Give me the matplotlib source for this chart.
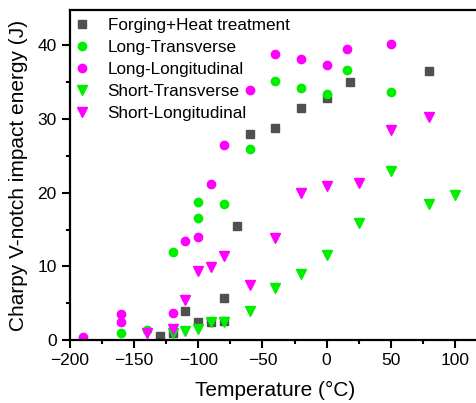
import matplotlib
matplotlib.use("Agg")
import matplotlib.pyplot as plt
from matplotlib.ticker import MultipleLocator

plt.rcParams['font.family'] = ['Liberation Sans', 'DejaVu Sans']

# Forging + Heat treatment
fh_T = [-130, -120, -110, -100, -90, -80, -80, -70, -60, -40, -20, 0, 18, 80]
fh_E = [0.6, 0.9, 4.0, 2.5, 2.4, 5.7, 2.6, 15.5, 28.0, 28.8, 31.5, 32.9, 35.0, 36.5]

# Long-Transverse
lt_T = [-160, -140, -120, -100, -100, -80, -60, -40, -20, 0, 16, 50]
lt_E = [0.9, 1.3, 12.0, 18.7, 16.5, 18.4, 25.9, 35.2, 34.2, 33.4, 36.7, 33.7]

# Long-Longitudinal
ll_T = [-190, -160, -160, -120, -110, -100, -90, -80, -60, -40, -20, 0, 16, 50]
ll_E = [0.45, 3.5, 2.5, 3.7, 13.5, 14.0, 21.2, 26.5, 33.9, 38.8, 38.2, 37.4, 39.5, 40.2]

# Short-Transverse
st_T = [-120, -110, -100, -90, -80, -60, -40, -20, 0, 25, 50, 80, 100]
st_E = [0.9, 1.2, 1.45, 2.4, 2.5, 3.9, 7.1, 8.9, 11.6, 15.9, 22.9, 18.4, 19.7]

# Short-Longitudinal
sl_T = [-140, -120, -110, -100, -90, -80, -60, -40, -20, 0, 25, 50, 80]
sl_E = [0.9, 1.45, 5.4, 9.4, 9.9, 11.4, 7.5, 13.9, 19.9, 20.9, 21.3, 28.5, 30.3]

labels = ["Forging+Heat treatment", "Long-Transverse", "Long-Longitudinal",
          "Short-Transverse", "Short-Longitudinal"]
x_ticks = [-200, -150, -100, -50, 0, 50, 100]
y_ticks = [0, 10, 20, 30, 40]

gray = "#505050"
green = "#00ee00"
magenta = "#ff00ff"

fig = plt.figure(figsize=(4.76, 4.03), dpi=100)
ax = fig.add_axes([70/476, 1-340/403, (480-70)/476, (340-10)/403])

ax.plot(fh_T, fh_E, ls='none', marker='s', ms=5.5, color=gray, mec=gray, label=labels[0])
ax.plot(lt_T, lt_E, ls='none', marker='o', ms=6, color=green, mec=green, label=labels[1])
ax.plot(ll_T, ll_E, ls='none', marker='o', ms=6, color=magenta, mec=magenta, label=labels[2])
ax.plot(st_T, st_E, ls='none', marker='v', ms=6.5, color=green, mec=green, label=labels[3])
ax.plot(sl_T, sl_E, ls='none', marker='v', ms=6.5, color=magenta, mec=magenta, label=labels[4])

ax.set_xlim(-200, 119.5)
ax.set_ylim(0, 44.8)
ax.set_xticks(x_ticks)
ax.set_yticks(y_ticks)
ax.xaxis.set_minor_locator(MultipleLocator(25))
ax.yaxis.set_minor_locator(MultipleLocator(5))
ax.tick_params(which='major', direction='out', length=6, width=1.5, labelsize=12.5)
ax.tick_params(which='minor', direction='out', length=3, width=1.5)
for s in ax.spines.values():
    s.set_linewidth(1.6)

ax.set_xlabel("Temperature (°C)", fontsize=15, labelpad=9)
ax.set_ylabel("Charpy V-notch impact energy (J)", fontsize=15, labelpad=7)

ax.legend(loc='upper left', frameon=False, fontsize=12.3, handletextpad=1.2,
          borderaxespad=0.05, labelspacing=0.42, handlelength=0.55,
          bbox_to_anchor=(0.0, 1.0))

fig.savefig("out.png", dpi=100)
